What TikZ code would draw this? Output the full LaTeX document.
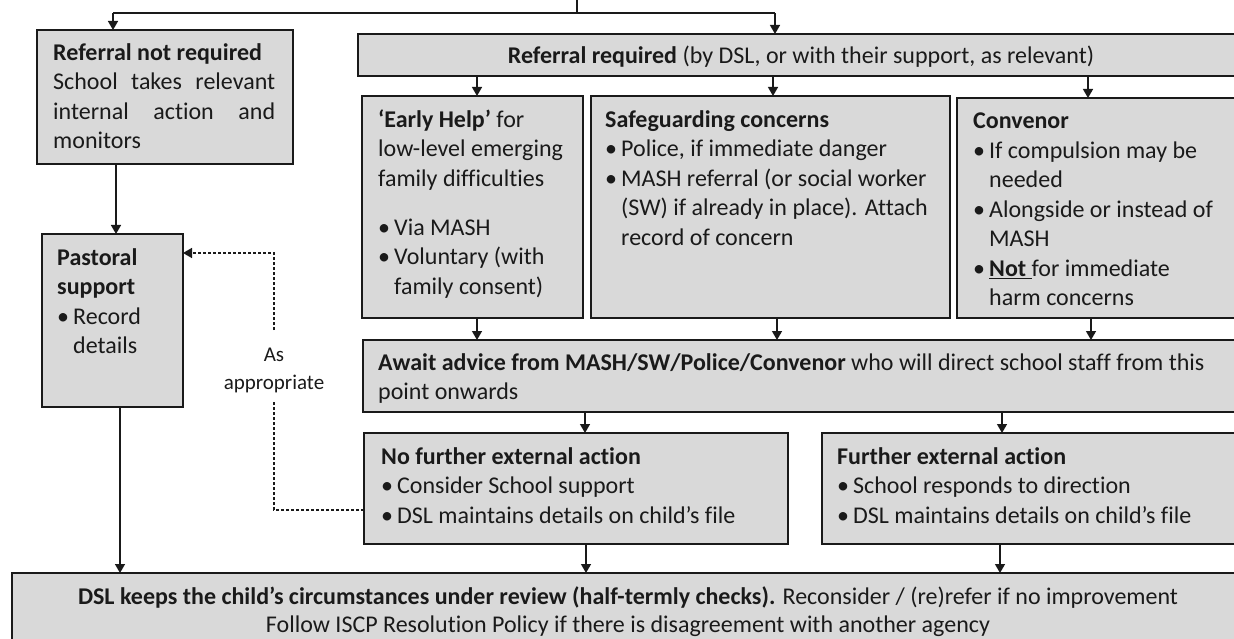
\documentclass[tikz,border=0pt]{standalone}
\usepackage{fontspec}
\setmainfont{Carlito}[Ligatures={NoCommon}]
\usetikzlibrary{arrows.meta,calc}
\definecolor{boxfill}{HTML}{D9D9D9}
\definecolor{ink}{HTML}{1A1A1A}
\newcommand\bul{\makebox[16pt][l]{•}}
\newcommand\cont{\hspace*{16pt}}
\newcommand\mybox[5]{\node[box, minimum width={#4-#2}, minimum height={#5-#3}] (#1) at ({(#2+#4)/2},{(#3+#5)/2}) {};}
\newcommand\vconn[3]{\coordinate (x#1#2) at (#3,0); \draw[arr] (x#1#2 |- #1.south) -- (x#1#2 |- #2.north);}
\begin{document}
\begin{tikzpicture}[x=1pt,y=-1pt,
  box/.style={draw=ink, fill=boxfill, line width=1.6pt, inner sep=0pt, outer sep=0pt},
  txt/.style={anchor=north west, inner sep=0pt, align=left, text=ink, font=\fontsize{24}{29.5}\selectfont},
  arr/.style={draw=ink, line width=1.4pt, -{Triangle[length=9pt,width=10pt]}},
  ln/.style={draw=ink, line width=1.4pt},
  dsh/.style={draw=ink, line width=1.4pt, dash pattern=on 3pt off 2pt},
]
\useasboundingbox (0,0) rectangle (1234,639);

% boxes
\mybox{rnr}{37}{30}{293}{164}
\mybox{pas}{42}{234}{183}{407}
\mybox{rr}{358}{34}{1240}{76}
\mybox{eh}{362}{96}{583}{318}
\mybox{sg}{591}{96}{950}{318}
\mybox{cv}{957}{98}{1240}{318}
\mybox{aw}{363}{340}{1240}{412}
\mybox{nf}{364}{433}{788}{544}
\mybox{fe}{822}{433}{1240}{544}
\mybox{bt}{12}{573}{1240}{650}

% texts
\node[txt] (rnrT) at (53,39.5) {\strut\textbf{Referral not required}\\
  \makebox[222pt][s]{School takes relevant}\\
  \makebox[222pt][s]{internal action and}\\
  monitors};
\node[txt] (pasT) at (57,244.5) {\strut\textbf{Pastoral}\\ \textbf{support}\\ \bul Record\\ \cont details};
\node[txt, anchor=base] (rrT) at (801,64) {\textbf{Referral required} (by DSL, or with their support, as relevant)};
\node[txt] (ehT) at (378,106.5) {\strut\textbf{‘Early Help’} for\\ low-level emerging\\ family difficulties\\[19.5pt]
  \bul Via MASH\\ \bul Voluntary (with\\ \cont family consent)};
\node[txt] (sgT) at (605,106.5) {\strut\textbf{Safeguarding concerns}\\ \bul Police, if immediate danger\\
  \bul MASH referral (or social worker\\ \cont (SW) if already in place). Attach\\ \cont record of concern};
\node[txt] (cvT) at (973,108) {\strut\textbf{Convenor}\\ \bul If compulsion may be\\ \cont needed\\
  \bul Alongside or instead of\\ \cont MASH\\ \bul \underline{\textbf{Not} }for immediate\\ \cont harm concerns};
\node[txt] (awT) at (378,349.5) {\strut\textbf{Await advice from MASH/SW/Police/Convenor} who will direct school staff from this\\ point onwards};
\node[txt] (nfT) at (381,443.5) {\strut\textbf{No further external action}\\ \bul Consider School support\\ \bul DSL maintains details on child’s file};
\node[txt] (feT) at (837,443.5) {\strut\textbf{Further external action}\\ \bul School responds to direction\\ \bul DSL maintains details on child’s file};
\node[txt, anchor=north, align=center, font=\fontsize{24}{28.5}\selectfont] (btT) at (628,584) {\strut\textbf{DSL keeps the child’s circumstances under review (half-termly checks).} Reconsider / (re)refer if no improvement\\ Follow ISCP Resolution Policy if there is disagreement with another agency};
\node[txt, anchor=north, align=center, font=\fontsize{21}{28}\selectfont] (asT) at (274,341.5) {\strut As\\ appropriate};

% top split
\coordinate (topin) at (577,0);
\coordinate (jl) at (113,13);
\coordinate (jr) at (775,13);
\draw[ln] (topin) -- (topin |- jl);
\draw[ln] (jl) -- (jr);
\draw[arr] (jl) -- (jl |- rnr.north);
\draw[arr] (jr) -- (jr |- rr.north);

% vertical connectors
\vconn{rnr}{pas}{116}
\vconn{pas}{bt}{120}
\vconn{rr}{eh}{477}
\vconn{rr}{sg}{773}
\vconn{rr}{cv}{1088}
\vconn{eh}{aw}{477}
\vconn{sg}{aw}{777}
\vconn{cv}{aw}{1091}
\vconn{aw}{nf}{585}
\vconn{aw}{fe}{1002}
\vconn{nf}{bt}{586}
\vconn{fe}{bt}{1000}

% dashed feedback
\coordinate (d1) at (274,510);
\coordinate (d2) at (274,402);
\coordinate (d3) at (274,330);
\coordinate (d4) at (274,253);
\draw[dsh] (nf.west |- d1) -- (d1) -- (d2);
\draw[dsh, -{Triangle[length=9pt,width=10pt]}] (d3) -- (d4) -- (d4 -| pas.east);
\end{tikzpicture}
\end{document}
